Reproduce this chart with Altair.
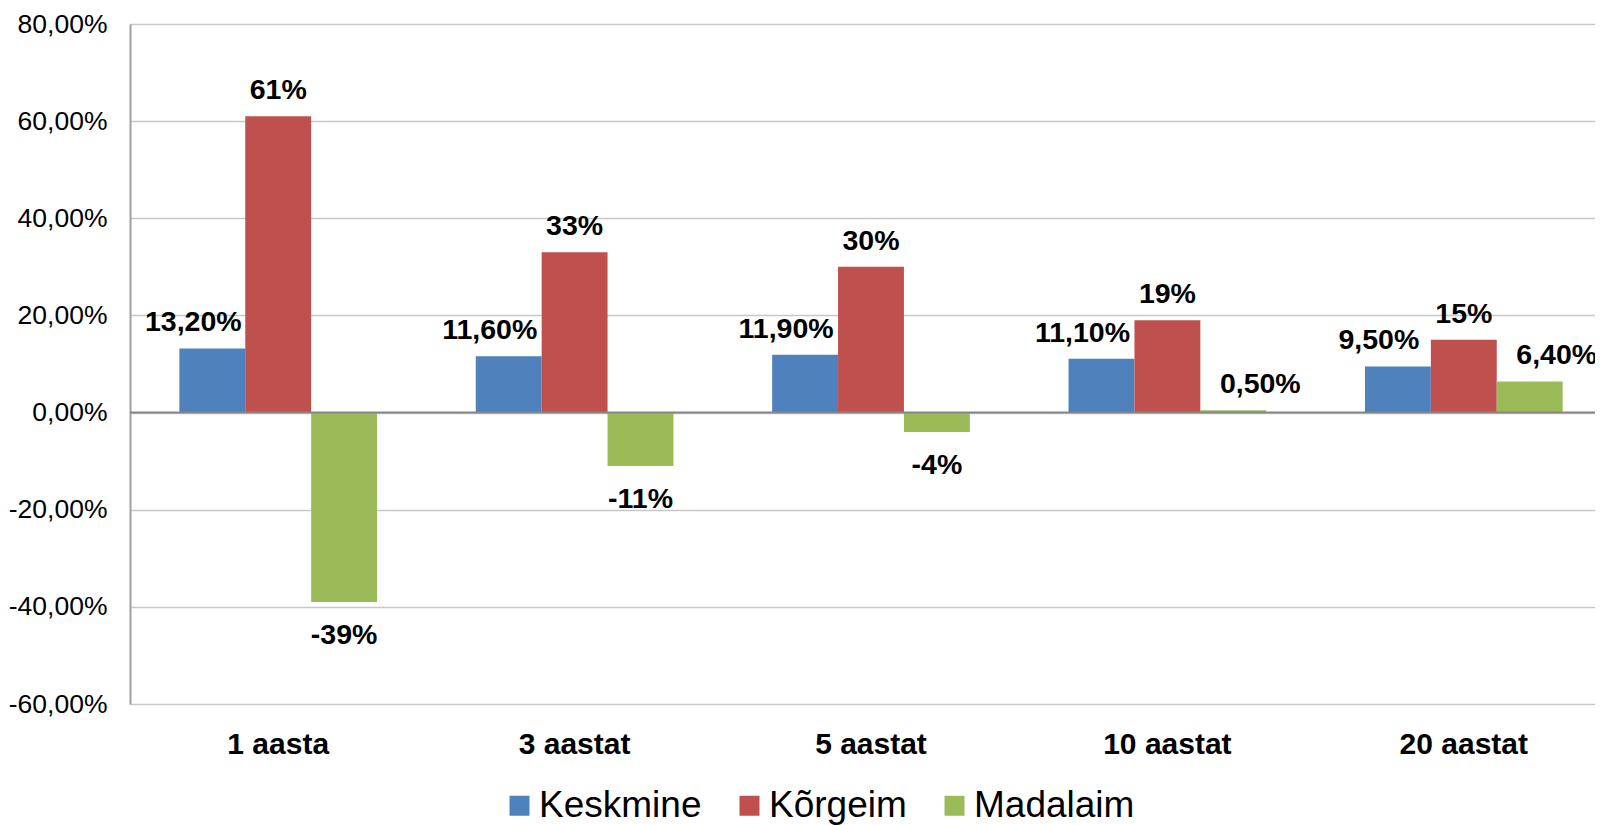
import altair as alt
import pandas as pd

categories = ["1 aasta", "3 aastat", "5 aastat", "10 aastat", "20 aastat"]
series = ["Keskmine", "Kõrgeim", "Madalaim"]
keskmine = [13.2, 11.6, 11.9, 11.1, 9.5]
korgeim = [61, 33, 30, 19, 15]
madalaim = [-39, -11, -4, 0.5, 6.4]
keskmine_labels = ["13,20%", "11,60%", "11,90%", "11,10%", "9,50%"]
korgeim_labels = ["61%", "33%", "30%", "19%", "15%"]
madalaim_labels = ["-39%", "-11%", "-4%", "0,50%", "6,40%"]
colors = ["#4F81BD", "#C0504D", "#9BBB59"]

rows = []
for s, vals, labs in zip(series, [keskmine, korgeim, madalaim],
                         [keskmine_labels, korgeim_labels, madalaim_labels]):
    for c, v, l in zip(categories, vals, labs):
        rows.append({"cat": c, "series": s, "value": v, "label": l})
df = pd.DataFrame(rows)

FONT = "Liberation Sans"

x_enc = alt.X("cat:N", sort=categories,
              scale=alt.Scale(paddingInner=0.333, paddingOuter=0.1665),
              axis=alt.Axis(title=None, domain=False, ticks=False, labelAngle=0,
                            labelFont=FONT, labelFontSize=30, labelFontWeight="bold",
                            labelColor="#000000", labelPadding=25))
xo_enc = alt.XOffset("series:N", sort=series,
                     scale=alt.Scale(paddingInner=0, paddingOuter=0))
y_scale = alt.Scale(domain=[-60, 80], nice=False, zero=False)

base = alt.Chart(df)

bars = base.mark_bar().encode(
    x=x_enc,
    xOffset=xo_enc,
    y=alt.Y("value:Q", scale=y_scale,
            axis=alt.Axis(title=None, values=[-60, -40, -20, 0, 20, 40, 60, 80],
                          labelExpr="(datum.value < 0 ? '-' : '') + replace(format(abs(datum.value), '.2f'), '.', ',') + '%'",
                          labelFont=FONT, labelFontSize=26.5, labelColor="#000000",
                          labelPadding=23, ticks=False,
                          domain=True, domainColor="#a0a0a0", domainWidth=2,
                          grid=True, gridColor="#c8c8c8", gridWidth=1.5)),
    color=alt.Color("series:N", sort=series,
                    scale=alt.Scale(domain=series, range=colors),
                    legend=alt.Legend(title=None, orient="none", direction="horizontal",
                                      legendX=371, legendY=763, padding=0,
                                      symbolType="square", symbolSize=400,
                                      symbolStrokeWidth=0, labelFont=FONT,
                                      labelFontSize=37, labelColor="#000000",
                                      labelLimit=0,
                                      labelOffset=1, columnPadding=29)),
)

zero = alt.Chart(pd.DataFrame({"z": [0]})).mark_rule(color="#868686", strokeWidth=2).encode(
    y=alt.Y("z:Q", scale=y_scale)
)

def text_layer(filt, dx, dy):
    return base.transform_filter(filt).mark_text(
        font=FONT, fontSize=28.5, fontWeight="bold", color="#000000",
        baseline="alphabetic", align="center", dx=dx, dy=dy
    ).encode(
        x=alt.X("cat:N", sort=categories),
        xOffset=alt.XOffset("series:N", sort=series),
        y=alt.Y("value:Q", scale=y_scale),
        text="label:N",
    )

t1 = text_layer("datum.series == 'Keskmine'", -19, -17)
t2 = text_layer("datum.series == 'Kõrgeim'", 0, -17)
t3 = text_layer("datum.series == 'Madalaim' && datum.value >= 0", 27, -17)
t4 = text_layer("datum.series == 'Madalaim' && datum.value < 0", 0, 42)

chart = alt.layer(bars, zero, t1, t2, t3, t4).properties(
    width=1482, height=680,
    autosize=alt.AutoSizeParams(type="none"),
    padding={"left": 122, "top": 16, "right": -17, "bottom": 121},
).configure_view(stroke=None).configure(background="#ffffff")

chart.save("out.html", embed_options={"renderer": "svg", "actions": False})
